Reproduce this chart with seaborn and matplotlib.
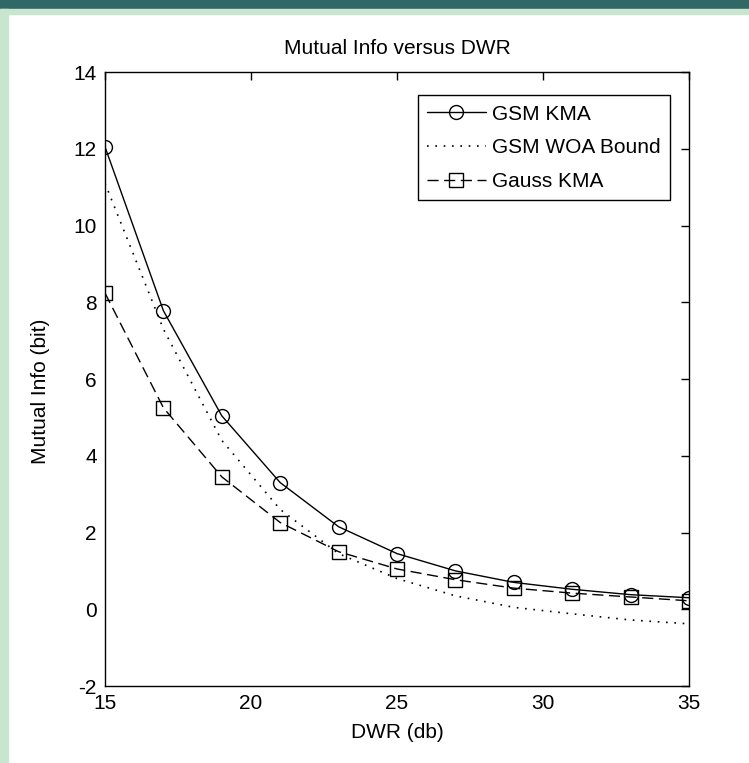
import numpy as np
import pandas as pd
import matplotlib
matplotlib.use('Agg')
import matplotlib.pyplot as plt
from matplotlib.patches import Rectangle
import seaborn as sns

# values
dwr = [15, 17, 19, 21, 23, 25, 27, 29, 31, 33, 35]
gsm_kma = [12.05, 7.78, 5.04, 3.3, 2.15, 1.45, 1.0, 0.7, 0.52, 0.38, 0.3]
gsm_woa_bound = [11.1, 7.3, 4.4, 2.6, 1.45, 0.8, 0.35, 0.05, -0.12, -0.28, -0.38]
gauss_kma = [8.24, 5.25, 3.45, 2.26, 1.5, 1.05, 0.77, 0.55, 0.42, 0.32, 0.22]

x_ticks = [15, 20, 25, 30, 35]
y_ticks = [-2, 0, 2, 4, 6, 8, 10, 12, 14]

sns.set_style('white')
plt.rcParams['font.family'] = ['Liberation Sans Narrow', 'Liberation Sans', 'DejaVu Sans']
plt.rcParams['axes.unicode_minus'] = False
plt.rcParams['text.color'] = 'k'
plt.rcParams['axes.labelcolor'] = 'k'

fig = plt.figure(figsize=(7.49, 7.63), dpi=100)
W, H = 749, 763

# page decoration: dark bar on top, light green strips
fig.patches.append(Rectangle((0, 1 - 9 / H), 1, 9 / H, transform=fig.transFigure,
                             color='#2f6867', zorder=0))
fig.patches.append(Rectangle((0, 1 - 14 / H), 1, 5 / H, transform=fig.transFigure,
                             color='#c8e6cd', zorder=0))
fig.patches.append(Rectangle((0, 0), 8 / W, 1 - 9 / H, transform=fig.transFigure,
                             color='#c8e6cd', zorder=0))

ax = fig.add_axes([105 / W, 1 - 686 / H, 584 / W, 614 / H])

sns.lineplot(x=dwr, y=gsm_kma, ax=ax, color='k', linewidth=1.0, marker='o',
             markersize=10, markerfacecolor='none', markeredgecolor='k',
             markeredgewidth=1.0, label='GSM KMA')
sns.lineplot(x=dwr, y=gsm_woa_bound, ax=ax, color='k', linewidth=1.2,
             linestyle=(0, (1, 4)), label='GSM WOA Bound')
sns.lineplot(x=dwr, y=gauss_kma, ax=ax, color='k', linewidth=1.0, marker='s',
             markersize=10, markerfacecolor='none', markeredgecolor='k',
             markeredgewidth=1.0, linestyle=(0, (8, 4)), label='Gauss KMA')

ax.set_xlim(15, 35)
ax.set_ylim(-2, 14)
ax.set_xticks(x_ticks)
ax.set_yticks(y_ticks)
ax.tick_params(direction='in', length=6, width=1, top=True, right=True,
               labelsize=15, pad=6, colors='k')
for s in ax.spines.values():
    s.set_color('k')
    s.set_linewidth(1.0)

ax.set_title('Mutual Info versus DWR', fontsize=15, pad=13)
ax.set_xlabel('DWR (db)', fontsize=15, labelpad=7)
ax.set_ylabel('Mutual Info (bit)', fontsize=15)
ax.yaxis.set_label_coords(-0.094, 0.48)

leg = ax.legend(loc='upper right', bbox_to_anchor=(0.985, 0.979), fontsize=15,
                frameon=True, fancybox=False, framealpha=1, edgecolor='k',
                handlelength=2.8, handletextpad=0.3, labelspacing=0.7,
                borderpad=0.45)
leg.get_frame().set_linewidth(1.0)

fig.savefig('out.png', dpi=100, facecolor='white')
